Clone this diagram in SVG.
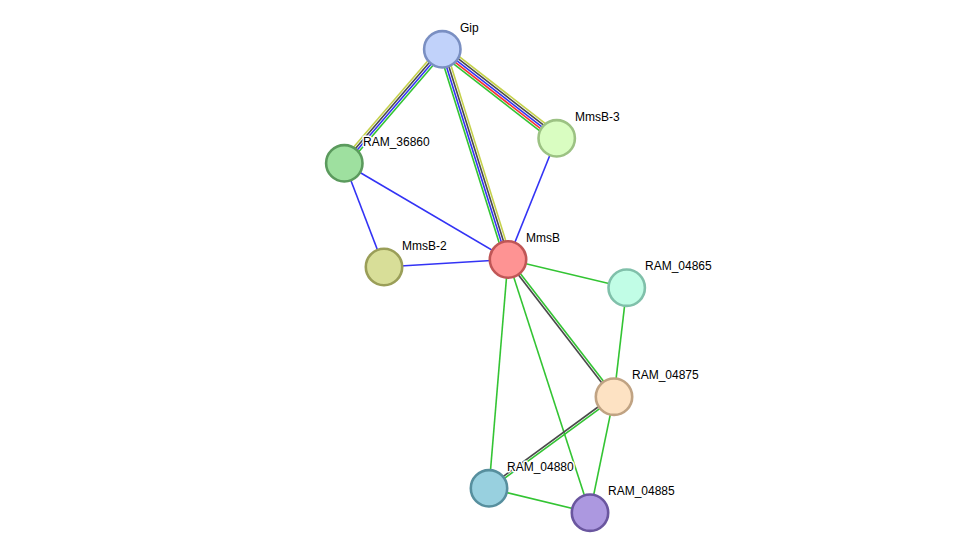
<svg xmlns="http://www.w3.org/2000/svg" width="976" height="558" viewBox="0 0 976 558">
<style>
line{stroke-width:1.6;fill:none}
.g{stroke:#33c433}.b{stroke:#3333f5}.k{stroke:#4a4a4a}.y{stroke:#c5d14a}.r{stroke:#f53333}
circle{stroke-width:2.6}
text{font-family:"Liberation Sans",Arial,sans-serif;font-size:12px;fill:#000;stroke:#fff;stroke-width:3px;stroke-linejoin:round;paint-order:stroke}
</style>
<rect width="976" height="558" fill="#fff"/>
<g id="edges">
<line class="y" x1="445.13" y1="45.67" x2="559.53" y2="134.67"/>
<line class="k" x1="443.71" y1="47.49" x2="558.11" y2="136.49"/>
<line class="b" x1="442.3" y1="49.3" x2="556.7" y2="138.3"/>
<line class="r" x1="440.89" y1="51.12" x2="555.29" y2="140.12"/>
<line class="g" x1="439.48" y1="52.93" x2="553.88" y2="141.93"/>
<line class="y" x1="445.59" y1="48.27" x2="511.29" y2="258.47"/>
<line class="k" x1="443.40" y1="48.96" x2="509.10" y2="259.16"/>
<line class="b" x1="441.20" y1="49.64" x2="506.90" y2="259.84"/>
<line class="g" x1="439.01" y1="50.33" x2="504.71" y2="260.53"/>
<line class="y" x1="439.68" y1="47.05" x2="341.68" y2="161.05"/>
<line class="k" x1="441.43" y1="48.55" x2="343.43" y2="162.55"/>
<line class="b" x1="443.17" y1="50.05" x2="345.17" y2="164.05"/>
<line class="g" x1="444.92" y1="51.55" x2="346.92" y2="165.55"/>
<line class="b" x1="344.3" y1="163.3" x2="508" y2="259.5"/>
<line class="b" x1="344.3" y1="163.3" x2="384" y2="267"/>
<line class="b" x1="384" y1="267" x2="508" y2="259.5"/>
<line class="b" x1="556.7" y1="138.3" x2="508" y2="259.5"/>
<line class="g" x1="508" y1="259.5" x2="626.7" y2="287.7"/>
<line class="g" x1="508.91" y1="258.80" x2="614.91" y2="396.00"/>
<line class="k" x1="507.09" y1="260.20" x2="613.09" y2="397.40"/>
<line class="g" x1="508" y1="259.5" x2="489" y2="488.3"/>
<line class="g" x1="508" y1="259.5" x2="590" y2="512.7"/>
<line class="g" x1="626.7" y1="287.7" x2="614" y2="396.7"/>
<line class="k" x1="613.32" y1="395.77" x2="488.32" y2="487.37"/>
<line class="g" x1="614.68" y1="397.63" x2="489.68" y2="489.23"/>
<line class="g" x1="614" y1="396.7" x2="590" y2="512.7"/>
<line class="g" x1="489" y1="488.3" x2="590" y2="512.7"/>
</g>
<g id="Gip"><circle cx="442.3" cy="49.3" r="18.2" fill="#c1d2fa" stroke="#7a8fc2"/><text x="460" y="32">Gip</text></g>
<g id="MmsB-3"><circle cx="556.7" cy="138.3" r="18.2" fill="#d9fdc1" stroke="#9cc283"/><text x="575" y="121">MmsB-3</text></g>
<g id="RAM_36860"><circle cx="344.3" cy="163.3" r="18.2" fill="#9ee09f" stroke="#5b9a5d"/><text x="363" y="146">RAM_36860</text></g>
<g id="MmsB-2"><circle cx="384" cy="267" r="18.2" fill="#d8de98" stroke="#9a9e58"/><text x="402" y="250">MmsB-2</text></g>
<g id="MmsB"><circle cx="508" cy="259.5" r="18.2" fill="#fe9393" stroke="#c05656"/><text x="526" y="242">MmsB</text></g>
<g id="RAM_04865"><circle cx="626.7" cy="287.7" r="18.2" fill="#c1fde6" stroke="#80c0aa"/><text x="645" y="270">RAM_04865</text></g>
<g id="RAM_04875"><circle cx="614" cy="396.7" r="18.2" fill="#fde2c3" stroke="#c0a383"/><text x="632" y="379">RAM_04875</text></g>
<g id="RAM_04880"><circle cx="489" cy="488.3" r="18.2" fill="#98d0df" stroke="#578f9e"/><text x="507" y="471">RAM_04880</text></g>
<g id="RAM_04885"><circle cx="590" cy="512.7" r="18.2" fill="#ac98e0" stroke="#6a569f"/><text x="608" y="495">RAM_04885</text></g>
</svg>
